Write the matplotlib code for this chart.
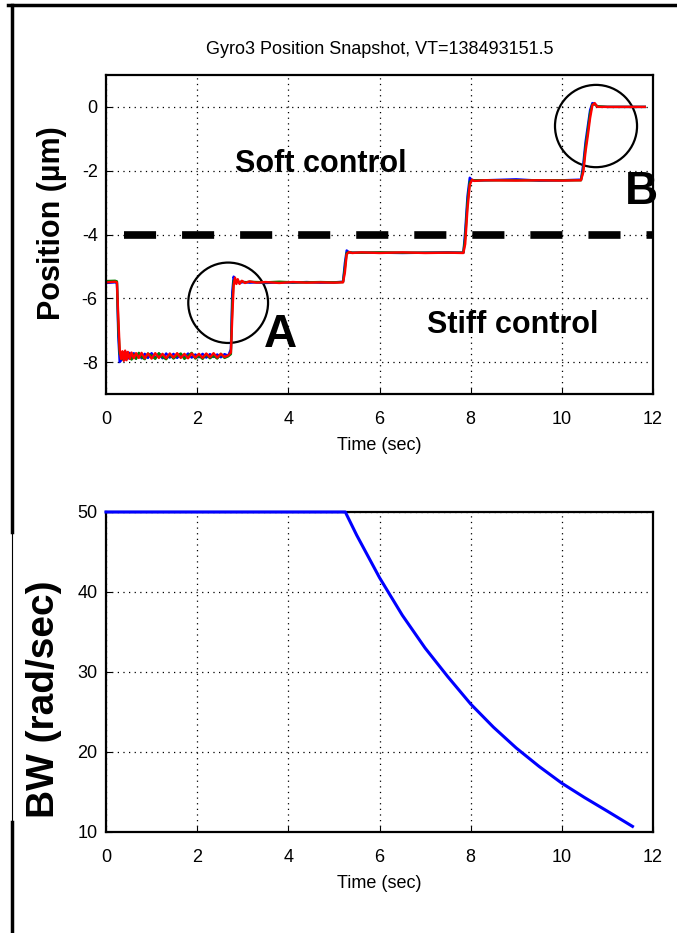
import numpy as np
import matplotlib
matplotlib.use('Agg')
import matplotlib.pyplot as plt
from matplotlib.patches import Ellipse
from matplotlib.lines import Line2D

plt.rcParams['font.family'] = ['Liberation Sans', 'DejaVu Sans']
plt.rcParams['axes.unicode_minus'] = False

# position snapshot (sec, um) - three sensor traces
t_pos = [0.00, 0.20, 0.24, 0.27, 0.30, 0.33, 0.36, 0.39,
         0.42, 0.45, 0.48, 0.52, 0.56, 0.61, 0.66, 0.72,
         0.78, 0.85, 0.92, 1.00, 1.08, 1.16, 1.24, 1.32,
         1.40, 1.48, 1.56, 1.64, 1.72, 1.80, 1.88, 1.96,
         2.04, 2.12, 2.20, 2.28, 2.36, 2.44, 2.52, 2.60,
         2.68, 2.74, 2.77, 2.80, 2.83, 2.86, 2.89, 2.93,
         2.98, 3.05, 3.15, 3.30, 3.50, 3.80, 4.10, 4.40,
         4.70, 5.00, 5.20, 5.24, 5.28, 5.33, 5.40, 5.60,
         6.00, 6.50, 7.00, 7.50, 7.84, 7.88, 7.93, 7.98,
         8.03, 8.08, 8.30, 9.00, 9.50, 10.00, 10.42, 10.47,
         10.52, 10.57, 10.62, 10.67, 10.72, 10.78, 11.00, 11.82]

pos_blue = [-5.52, -5.50, -5.52, -7.20, -8.00, -7.95, -7.80, -7.70,
            -7.92, -7.70, -7.89, -7.71, -7.90, -7.72, -7.87, -7.73,
            -7.88, -7.74, -7.87, -7.72, -7.86, -7.74, -7.88, -7.73,
            -7.86, -7.74, -7.87, -7.75, -7.85, -7.73, -7.86, -7.76,
            -7.85, -7.74, -7.86, -7.75, -7.84, -7.76, -7.85, -7.75,
            -7.80, -7.60, -5.80, -5.32, -5.45, -5.50, -5.48, -5.52,
            -5.50, -5.49, -5.51, -5.50, -5.52, -5.50, -5.51, -5.49,
            -5.51, -5.50, -5.48, -4.90, -4.50, -4.56, -4.57, -4.57,
            -4.57, -4.58, -4.57, -4.56, -4.57, -3.90, -2.80, -2.22,
            -2.30, -2.31, -2.30, -2.27, -2.31, -2.30, -2.28, -1.80,
            -1.10, -0.60, -0.10, 0.12, 0.10, 0.01, 0.00, 0.00]

pos_green = [-5.46, -5.45, -5.47, -6.90, -7.75, -7.80, -7.92, -7.70,
             -7.88, -7.90, -7.72, -7.84, -7.92, -7.76, -7.90, -7.71,
             -7.84, -7.91, -7.73, -7.80, -7.90, -7.72, -7.84, -7.91,
             -7.76, -7.89, -7.80, -7.73, -7.90, -7.80, -7.71, -7.89,
             -7.80, -7.90, -7.76, -7.88, -7.80, -7.89, -7.74, -7.87,
             -7.82, -7.75, -6.20, -5.45, -5.42, -5.50, -5.46, -5.50,
             -5.47, -5.50, -5.48, -5.49, -5.50, -5.48, -5.50, -5.50,
             -5.49, -5.50, -5.49, -5.05, -4.58, -4.55, -4.57, -4.57,
             -4.56, -4.57, -4.57, -4.57, -4.57, -4.10, -3.00, -2.35,
             -2.29, -2.30, -2.30, -2.30, -2.30, -2.30, -2.30, -1.95,
             -1.25, -0.75, -0.20, 0.08, 0.08, 0.02, 0.00, 0.00]

pos_red = [-5.50, -5.48, -5.50, -6.60, -7.60, -7.90, -7.66, -7.96,
           -7.64, -7.94, -7.68, -7.90, -7.70, -7.88, -7.72, -7.87,
           -7.71, -7.88, -7.73, -7.89, -7.72, -7.87, -7.74, -7.88,
           -7.73, -7.86, -7.72, -7.87, -7.74, -7.88, -7.73, -7.86,
           -7.74, -7.87, -7.73, -7.85, -7.72, -7.86, -7.74, -7.84,
           -7.79, -7.70, -6.60, -5.60, -5.35, -5.55, -5.40, -5.55,
           -5.45, -5.52, -5.47, -5.51, -5.49, -5.52, -5.49, -5.51,
           -5.50, -5.51, -5.50, -5.20, -4.62, -4.55, -4.58, -4.56,
           -4.58, -4.56, -4.58, -4.57, -4.58, -4.30, -3.20, -2.45,
           -2.28, -2.32, -2.30, -2.31, -2.30, -2.31, -2.30, -2.05,
           -1.40, -0.90, -0.35, 0.05, 0.12, 0.00, 0.00, 0.00]

threshold = -4.0

# bandwidth schedule
t_bw = [0.0, 5.25, 5.5, 6.0, 6.5, 7.0, 7.5, 8.0, 8.5, 9.0, 9.5, 10.0, 10.5, 11.0, 11.55]
bw = [50.0, 50.0, 47.1, 41.8, 37.1, 33.0, 29.4, 26.0, 23.1, 20.5, 18.2, 16.1, 14.3, 12.6, 10.7]

W, H = 677, 933
fig = plt.figure(figsize=(W / 100, H / 100), dpi=100)

def box(l, t, r, b):
    return [l / W, 1 - b / H, (r - l) / W, (b - t) / H]

ax1 = fig.add_axes(box(106, 75, 653, 394))
ax2 = fig.add_axes(box(106, 512, 653, 832))

for ax in (ax1, ax2):
    ax.grid(True, color='black', linestyle=(0, (1, 3.5)), linewidth=0.9)
    ax.tick_params(direction='in', length=4, width=0.8, labelsize=13)
    ax.tick_params(axis='x', pad=12)
    ax.tick_params(axis='y', pad=6)
    for s in ax.spines.values():
        s.set_linewidth(1.6)
    ax.set_xlim(0, 12)
    ax.set_xticks(range(0, 13, 2))
    ax.set_xlabel('Time (sec)', fontsize=13, labelpad=7)

# top: position
ax1.plot(t_pos, pos_blue, color='blue', lw=1.7)
ax1.plot(t_pos, pos_green, color='green', lw=1.7)
ax1.plot(t_pos, pos_red, color='red', lw=1.7)
ax1.plot([0.4, 12], [threshold, threshold], color='black', lw=5.5,
         linestyle=(0, (4.2, 3.4)), solid_capstyle='butt')
ax1.set_ylim(-9, 1)
ax1.set_yticks(range(-8, 1, 2))
ax1.set_ylabel('Position (\u00b5m)', fontsize=22, fontweight='bold')
ax1.yaxis.set_label_coords(-0.072, 0.536)

ax1.add_patch(Ellipse((2.68, -6.14), 1.75, 2.52, fill=False, color='black', lw=1.6))
ax1.add_patch(Ellipse((10.75, -0.6), 1.8, 2.58, fill=False, color='black', lw=1.6))
ax1.text(4.72, -1.8, 'Soft control', fontsize=22, fontweight='bold', ha='center', va='center')
ax1.text(8.93, -6.83, 'Stiff control', fontsize=22, fontweight='bold', ha='center', va='center')
ax1.text(3.82, -7.15, 'A', fontsize=33, fontweight='bold', ha='center', va='center')
ax1.text(11.74, -2.68, 'B', fontsize=33, fontweight='bold', ha='center', va='center')

fig.text(379.5 / W, 1 - 50 / H, 'Gyro3 Position Snapshot, VT=138493151.5',
         fontsize=13, ha='center', va='center')

# bottom: bandwidth
ax2.plot(t_bw, bw, color='blue', lw=2.2, zorder=3, clip_on=False)
ax2.set_ylim(10, 50)
ax2.set_yticks(range(10, 51, 10))
ax2.set_ylabel('BW (rad/sec)', fontsize=28, fontweight='bold')
ax2.yaxis.set_label_coords(-0.08, 0.416)

# page frame
fig.add_artist(Line2D([8 / W, 1], [1 - 5 / H, 1 - 5 / H], color='black', lw=2.5))
fig.add_artist(Line2D([12 / W, 12 / W], [1 - 5 / H, 1 - 532 / H], color='black', lw=2.5))
fig.add_artist(Line2D([12 / W, 12 / W], [1 - 532 / H, 1 - 822 / H], color='black', lw=0.8))
fig.add_artist(Line2D([12 / W, 12 / W], [1 - 822 / H, 0], color='black', lw=2.5))

fig.savefig('out.png', dpi=100)
